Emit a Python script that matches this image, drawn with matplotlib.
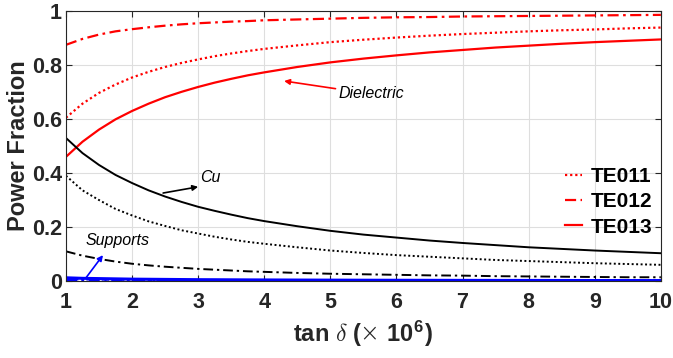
import matplotlib
matplotlib.use("Agg")
import matplotlib.pyplot as plt
from matplotlib.lines import Line2D

# ---------------- data ----------------
tan_delta = [1, 1.25, 1.5, 1.75, 2, 2.25, 2.5, 2.75, 3, 3.25, 3.5, 3.75, 4,
             4.5, 5, 5.5, 6, 6.5, 7, 7.5, 8, 8.5, 9, 9.5, 10]

diel_te011 = [0.605, 0.657, 0.697, 0.728, 0.754, 0.775, 0.793, 0.808, 0.821, 0.833, 0.843, 0.852, 0.860,
              0.873, 0.885, 0.894, 0.902, 0.909, 0.915, 0.920, 0.925, 0.929, 0.932, 0.936, 0.939]
diel_te012 = [0.875, 0.897, 0.913, 0.925, 0.933, 0.940, 0.946, 0.951, 0.955, 0.958, 0.961, 0.963, 0.966,
              0.969, 0.972, 0.975, 0.977, 0.978, 0.980, 0.981, 0.982, 0.983, 0.984, 0.985, 0.986]
diel_te013 = [0.460, 0.516, 0.561, 0.599, 0.630, 0.657, 0.681, 0.701, 0.719, 0.735, 0.749, 0.762, 0.773,
              0.793, 0.810, 0.824, 0.836, 0.847, 0.856, 0.865, 0.872, 0.879, 0.885, 0.890, 0.895]

cu_te011 = [0.390, 0.336, 0.300, 0.267, 0.243, 0.221, 0.204, 0.188, 0.176, 0.164, 0.154, 0.145, 0.138,
            0.125, 0.113, 0.104, 0.096, 0.090, 0.084, 0.078, 0.074, 0.070, 0.066, 0.063, 0.060]
cu_te012 = [0.110, 0.094, 0.082, 0.072, 0.064, 0.058, 0.053, 0.049, 0.045, 0.042, 0.039, 0.036, 0.034,
            0.030, 0.027, 0.025, 0.023, 0.021, 0.020, 0.018, 0.017, 0.016, 0.015, 0.014, 0.014]
cu_te013 = [0.530, 0.474, 0.430, 0.393, 0.363, 0.336, 0.313, 0.293, 0.275, 0.260, 0.246, 0.233, 0.222,
            0.203, 0.186, 0.172, 0.161, 0.150, 0.141, 0.133, 0.125, 0.119, 0.113, 0.108, 0.103]

sup_te011 = [0.007, 0.006, 0.0055, 0.005, 0.0045, 0.0042, 0.004, 0.0037, 0.0035, 0.0032, 0.003, 0.0029, 0.0028,
             0.0025, 0.0023, 0.0021, 0.002, 0.0019, 0.0018, 0.0017, 0.0016, 0.0015, 0.0014, 0.0013, 0.0012]
sup_te012 = [0.004, 0.0035, 0.003, 0.0027, 0.0025, 0.0023, 0.0022, 0.0021, 0.002, 0.0019, 0.0018, 0.0017, 0.0016,
             0.0015, 0.0014, 0.0013, 0.0012, 0.0011, 0.001, 0.001, 0.0009, 0.0009, 0.0008, 0.0008, 0.0008]
sup_te013 = [0.012, 0.010, 0.009, 0.008, 0.007, 0.0065, 0.006, 0.0055, 0.005, 0.0048, 0.0045, 0.0042, 0.004,
             0.0036, 0.0033, 0.003, 0.0028, 0.0026, 0.0024, 0.0023, 0.0022, 0.002, 0.0019, 0.0018, 0.0017]

mode_labels = ["TE011", "TE012", "TE013"]
y_ticks = [0, 0.2, 0.4, 0.6, 0.8, 1]
y_tick_labels = ["0", "0.2", "0.4", "0.6", "0.8", "1"]
x_ticks = [1, 2, 3, 4, 5, 6, 7, 8, 9, 10]

# ---------------- style ----------------
plt.rcParams['font.family'] = ['Liberation Sans', 'DejaVu Sans']
plt.rcParams['mathtext.fontset'] = 'custom'
plt.rcParams['mathtext.rm'] = 'Liberation Sans:bold'
plt.rcParams['mathtext.bf'] = 'Liberation Sans:bold'
plt.rcParams['mathtext.sf'] = 'DejaVu Sans:light'
plt.rcParams['mathtext.it'] = 'cmmi10'
plt.rcParams['mathtext.fallback'] = 'cm'

DOT = (0, (1, 1.3))
DASHDOT = (0, (5, 2, 1.2, 2))
TXT = '#262626'

fig = plt.figure(figsize=(6.73, 3.58), dpi=100)
ax = fig.add_axes([0.098, 0.215, 0.884, 0.754])

red = '#ff0000'
blue = '#0000ff'

ax.plot(tan_delta, diel_te011, color=red, lw=1.6, ls=DOT)
ax.plot(tan_delta, diel_te012, color=red, lw=1.6, ls=DASHDOT)
ax.plot(tan_delta, diel_te013, color=red, lw=1.6, ls='-')

ax.plot(tan_delta, cu_te011, color='black', lw=1.4, ls=DOT)
ax.plot(tan_delta, cu_te012, color='black', lw=1.4, ls=DASHDOT)
ax.plot(tan_delta, cu_te013, color='black', lw=1.4, ls='-')

ax.plot(tan_delta, sup_te013, color=blue, lw=2.2, ls='-')
ax.plot(tan_delta, sup_te011, color=blue, lw=1.6, ls=DOT)
ax.plot(tan_delta, sup_te012, color=blue, lw=1.6, ls=DASHDOT)

ax.set_xlim(1, 10)
ax.set_ylim(0, 1)
ax.set_xticks(x_ticks)
ax.set_yticks(y_ticks)
ax.set_yticklabels(y_tick_labels)
ax.tick_params(axis='both', direction='in', length=4, width=0.8, colors=TXT,
               top=True, right=True, labelsize=15.5)
ax.tick_params(axis='x', pad=8)
ax.tick_params(axis='y', pad=3)
for lab in ax.get_xticklabels() + ax.get_yticklabels():
    lab.set_fontweight('bold')
    lab.set_color(TXT)
ax.grid(True, color='#dedede', lw=0.8)
ax.set_axisbelow(True)
for s in ax.spines.values():
    s.set_color(TXT)
    s.set_linewidth(0.8)

ax.set_xlabel(r'tan $\delta$ ($\mathsf{\times}$ 10$^{6}$)', fontsize=17, fontweight='bold',
              color=TXT, labelpad=4)
ax.set_ylabel('Power Fraction', fontsize=17, fontweight='bold', color=TXT, labelpad=1.5)

# annotations
arrow_kw = dict(arrowstyle='-|>', lw=1.2, mutation_scale=8, shrinkA=0, shrinkB=0)
ax.annotate('Dielectric', xy=(4.30, 0.741), xytext=(5.12, 0.693), fontsize=11.5, style='italic',
            va='center', ha='left', arrowprops=dict(color=red, **arrow_kw))
ax.annotate('', xy=(3.0, 0.349), xytext=(2.47, 0.326),
            arrowprops=dict(color='black', **arrow_kw))
ax.text(3.03, 0.385, 'Cu', fontsize=11.5, style='italic', va='center', ha='left')
ax.annotate('', xy=(1.56, 0.096), xytext=(1.30, 0.011),
            arrowprops=dict(color=blue, **arrow_kw))
ax.text(1.29, 0.152, 'Supports', fontsize=11.5, style='italic', va='center', ha='left')

handles = [Line2D([], [], color=red, lw=1.6, ls=DOT),
           Line2D([], [], color=red, lw=1.6, ls=DASHDOT),
           Line2D([], [], color=red, lw=1.6, ls='-')]
leg = ax.legend(handles, mode_labels, loc='center right', bbox_to_anchor=(1.013, 0.293),
                frameon=False, handlelength=0.8, handletextpad=0.4, labelspacing=0.3,
                prop={'weight': 'bold', 'size': 15}, borderaxespad=0.4)

fig.savefig('out.png', dpi=100)
